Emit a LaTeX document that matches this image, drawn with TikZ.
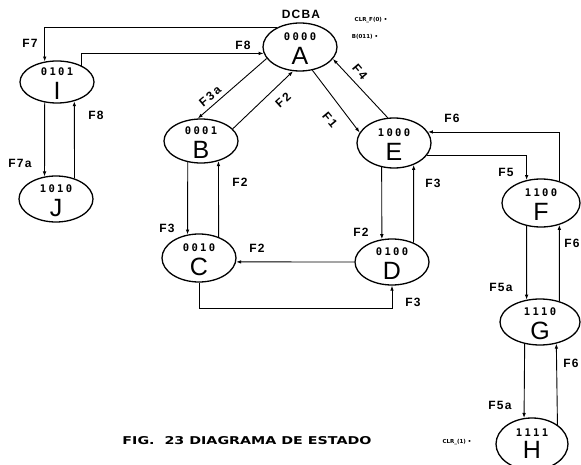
\documentclass[tikz,border=0pt]{standalone}
\usepackage{fontspec}
\usepackage{graphicx}
\setmainfont{Liberation Sans}
\newfontfamily\codefont{DejaVu Sans Mono}[LetterSpace=22]
\newfontfamily\labfont{Liberation Sans}[LetterSpace=10]
\newfontfamily\rlabfont{Liberation Sans}[LetterSpace=16]
\newfontfamily\tinyfont{DejaVu Sans}
\newfontfamily\capfont{DejaVu Sans}
\usetikzlibrary{shapes.geometric,arrows.meta,calc}
\begin{document}
\begin{tikzpicture}[x=1pt,y=-1pt,
  st/.style={draw, ellipse, line width=1.3pt, inner sep=0pt},
  code/.style={font=\codefont\bfseries\fontsize{10.5}{12}\selectfont, inner sep=0pt},
  big/.style={font=\fontsize{25}{28}\selectfont, inner sep=0pt},
  lab/.style={font=\labfont\bfseries\fontsize{12}{14}\selectfont, inner sep=0pt},
  rlab/.style={font=\rlabfont\bfseries\fontsize{12}{14}\selectfont, inner sep=0pt},
  tinylab/.style={font=\tinyfont\bfseries\fontsize{5.5}{6}\selectfont, inner sep=0pt},
  arr/.style={-{Latex[length=5pt,width=3.6pt]}, line width=0.9pt}]
\useasboundingbox (0,0) rectangle (581,465);
\fill[white] (0,0) rectangle (581,465);

% states
\node[st, minimum width=74pt, minimum height=48pt] (A) at (300,47) {};
\node[st, minimum width=74pt, minimum height=42pt] (I) at (57,82) {};
\node[st, minimum width=74pt, minimum height=44pt] (B) at (201,141) {};
\node[st, minimum width=74pt, minimum height=46pt] (J) at (56,199) {};
\node[st, minimum width=74pt, minimum height=50pt] (E) at (394,143) {};
\node[st, minimum width=78pt, minimum height=48pt] (F) at (541,203) {};
\node[st, minimum width=74pt, minimum height=48pt] (C) at (199,258) {};
\node[st, minimum width=74pt, minimum height=46pt] (D) at (392,262) {};
\node[st, minimum width=80pt, minimum height=46pt] (G) at (540,322) {};
\node[st, minimum width=72pt, minimum height=52pt] (H) at (532,444) {};

% state contents
\node[code] (A-c) at ([yshift=10pt]A.center) {0000};
\node[big]  (A-l) at ([yshift=-9pt]A.center) {A};
\node[code] (I-c) at ([yshift=10pt]I.center) {0101};
\node[big]  (I-l) at ([yshift=-9pt]I.center) {I};
\node[code] (B-c) at ([yshift=10pt]B.center) {0001};
\node[big]  (B-l) at ([yshift=-9pt]B.center) {B};
\node[code] (J-c) at ([yshift=10pt]J.center) {1010};
\node[big]  (J-l) at ([yshift=-9pt]J.center) {J};
\node[code] (E-c) at ([yshift=10pt]E.center) {1000};
\node[big]  (E-l) at ([yshift=-9pt]E.center) {E};
\node[code] (F-c) at ([yshift=10pt]F.center) {1100};
\node[big]  (F-l) at ([yshift=-9pt]F.center) {F};
\node[code] (C-c) at ([yshift=10pt]C.center) {0010};
\node[big]  (C-l) at ([yshift=-9pt]C.center) {C};
\node[code] (D-c) at ([yshift=10pt]D.center) {0100};
\node[big]  (D-l) at ([yshift=-9pt]D.center) {D};
\node[code] (G-c) at ([yshift=10pt]G.center) {1110};
\node[big]  (G-l) at ([yshift=-9pt]G.center) {G};
\node[code] (H-c) at ([yshift=11pt]H.center) {1111};
\node[big]  (H-l) at ([yshift=-6pt]H.center) {H};

% connectors
\draw[arr] (A.140) -| (I.121);
\draw[arr] (I.34) |- (A.190);
\draw[arr] (I.239) -- (J.117);
\draw[arr] (J.48) -- (I.-48);
\draw[arr] (A.199) -- (B.98);
\draw[arr] (B.21) -- (A.-106);
\draw[arr] (A.-62) -- (E.163);
\draw[arr] (E.104) -- (A.-20);
\draw[arr] (F.50) |- (E.18);
\draw[arr] (E.-20) -| (F.122);
\draw[arr] (E.-117) -- (D.114);
\draw[arr] (D.42) -- (E.-48);
\draw[arr] (B.-122) -- (C.116);
\draw[arr] (C.47) -- (B.-49);
\draw[arr] (D.west) -- (C.-6);
\draw[arr] (C.south) -- ($(C.south)+(0,26)$) -| (D.south);
\draw[arr] (F.-122) -- (G.121);
\draw[arr] (G.47) -- (F.-50);
\draw[arr] (G.-125) -- (H.107);
\draw[arr] (H.37) -- (G.-53);

% labels
\node[lab] (dcba) at (301,14) {DCBA};
\node[lab] (l1) at (30,43) {F7};
\node[lab] (l2) at (243,45) {F8};
\node[lab] (l3) at (96,115) {F8};
\node[lab] (l4) at (20,163) {F7a};
\node[rlab, rotate=40] (l5) at (210,96) {F3a};
\node[rlab, rotate=42] (l6) at (283,100) {F2};
\node[rlab, rotate=-50] (l7) at (330,120) {F1};
\node[rlab, rotate=-50] (l8) at (360,72) {F4};
\node[lab] (l9) at (452,118) {F6};
\node[lab] (l10) at (506,172) {F5};
\node[lab] (l11) at (433,183) {F3};
\node[lab] (l12) at (361,232) {F2};
\node[lab] (l13) at (240,182) {F2};
\node[lab] (l14) at (167,228) {F3};
\node[lab] (l15) at (257,248) {F2};
\node[lab] (l16) at (413,302) {F3};
\node[lab] (l17) at (501,287) {F5a};
\node[lab] (l18) at (572,243) {F6};
\node[lab] (l19) at (500,405) {F5a};
\node[lab] (l20) at (571,363) {F6};

\node[tinylab] (t1) at (371,20) {CLR\_F(0) •};
\node[tinylab] (t2) at (365,37) {B(011) •};
\node[tinylab] (t3) at (457,442) {CLR\_(1) •};

\node[inner sep=0pt] (cap) at (247,441) {\resizebox{249pt}{8pt}{\capfont\bfseries FIG.\ \ 23 DIAGRAMA DE ESTADO}};
\end{tikzpicture}
\end{document}
